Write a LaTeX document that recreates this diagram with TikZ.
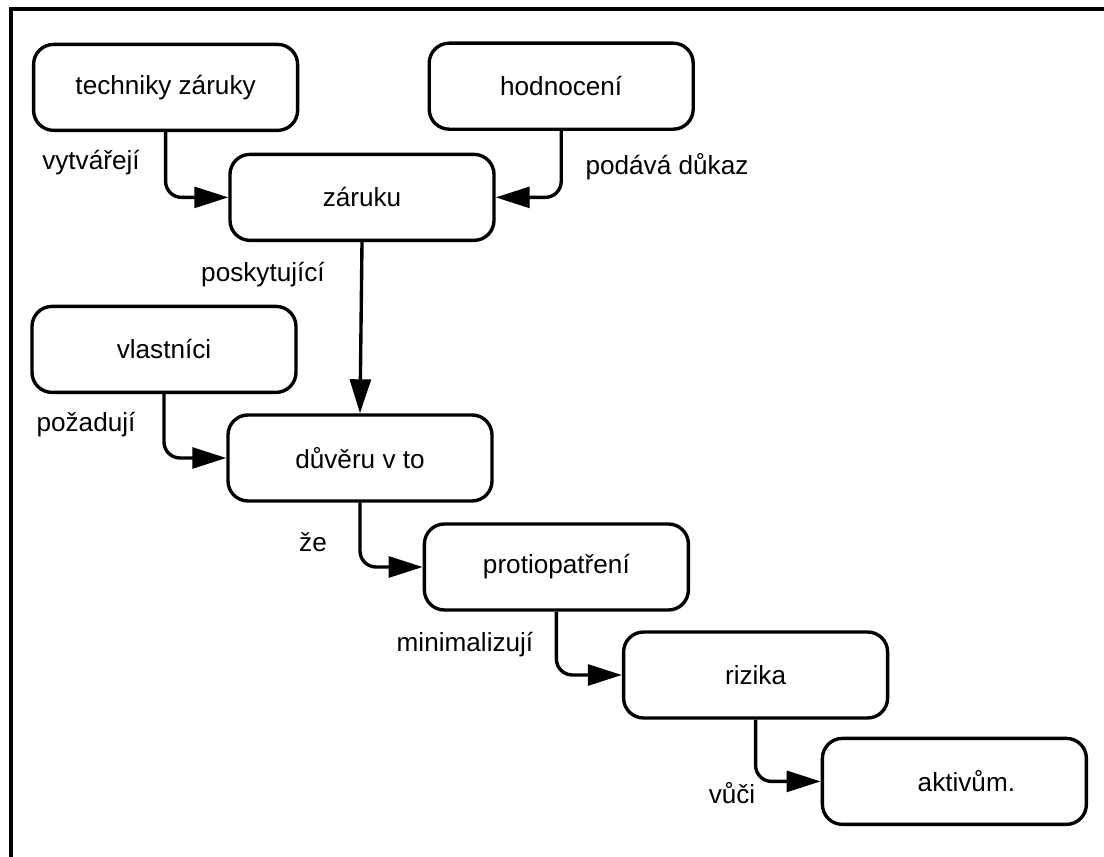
\documentclass[tikz,border=0pt]{standalone}
\usepackage{fontspec}
\setmainfont{Liberation Sans}
\usetikzlibrary{arrows.meta}

\begin{document}
\begin{tikzpicture}[
  krabice/.style={rectangle, rounded corners=0.5cm, draw, line width=2.4pt, minimum width=6.6cm, minimum height=2.15cm, font=\fontsize{18.6}{22}\selectfont},
  popis/.style={font=\fontsize{18.6}{22}\selectfont},
  vazba/.style={-{Triangle[length=0.85cm,width=0.52cm]}, line width=2.4pt, rounded corners=0.4cm}]
\useasboundingbox (0,0) rectangle (27.6,21.425);
\draw[line width=2.4pt] (0.275,-0.5) -- (0.275,21.2) -- (28,21.2);
\node[krabice] (tech) at (4.14,19.24) {techniky záruky};
\node[krabice] (hodn) at (14.03,19.27) {hodnocení};
\node[krabice] (zar) at (9.05,16.49) {záruku};
\node[krabice] (vlast) at (4.10,12.69) {vlastníci};
\node[krabice] (duv) at (9.0,9.975) {důvěru v to};
\node[krabice] (prot) at (13.91,7.25) {protiopatření};
\node[krabice] (riz) at (18.89,4.55) {rizika};
\node[krabice] (akt) at (23.86,1.89) {\hspace{0.6cm}aktivům.};
\draw[vazba] (tech.south) |- (zar.west);
\draw[vazba] (hodn.south) |- (zar.east);
\draw[vazba] (zar.south) -- (duv.north);
\draw[vazba] (vlast.south) |- (duv.west);
\draw[vazba] (duv.south) |- (prot.west);
\draw[vazba] (prot.south) |- (riz.west);
\draw[vazba] (riz.south) |- (akt.west);
\node[popis] (l1) at (2.275,17.35) {vytvářejí};
\node[popis] (l2) at (16.675,17.25) {podává důkaz};
\node[popis] (l3) at (6.575,14.55) {poskytující};
\node[popis] (l4) at (2.15,10.8) {požadují};
\node[popis] (l5) at (7.825,7.875) {že};
\node[popis] (l6) at (11.625,5.3) {minimalizují};
\node[popis] (l7) at (18.3,1.6) {vůči};
\end{tikzpicture}
\end{document}
